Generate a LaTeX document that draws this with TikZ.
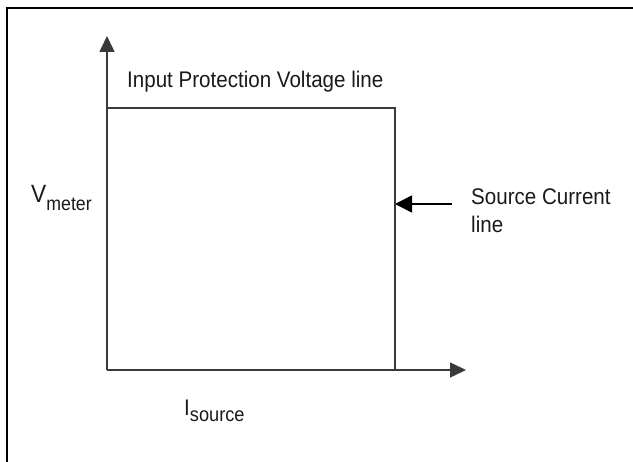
\documentclass[tikz,border=0pt]{standalone}
\usepackage{fontspec}
\setmainfont{Liberation Sans}[FakeStretch=0.91]
\usetikzlibrary{arrows.meta, positioning, calc}
\definecolor{kaxis}{HTML}{3A3A3A}
\definecolor{ktext}{HTML}{1A1A1A}

\begin{document}
\begin{tikzpicture}[x=1pt, y=-1pt,
  axisline/.style={draw=kaxis, line width=1.5pt, -{Triangle[length=16pt, width=15pt]}},
  boxline/.style={draw=kaxis, line width=1.5pt},
  lbl/.style={anchor=base west, inner sep=0pt, text=ktext, font=\fontsize{22.6}{28}\selectfont}]
\useasboundingbox (0,0) rectangle (633,462);
\draw[black, line width=2pt] (633,8) -- (7,8) -- (7,462);
% axes
\coordinate (O) at (107,370);
\coordinate (ytip) at (107,36);
\coordinate (xtip) at (466,370);
\coordinate (ipv) at (395,108);
\draw[axisline] (O) -- (ytip);
\draw[axisline] (O) -- (xtip);
% protection limits
\draw[boxline] (O |- ipv) -- (ipv) -- (ipv |- O);
\node[lbl] (ipvlabel) at (127,88) {Input Protection Voltage line};
\node[lbl, align=left] (sclabel) at (471,233) {Source Current\\line};
\coordinate (sctail) at (452,204);
\draw[axisline, draw=black, line width=1.8pt, -{Triangle[length=17pt, width=17pt]}] (sctail) -- (sctail -| ipv);
% axis labels
\node[lbl, font=\fontsize{25}{25}\selectfont] (vlabel) at (31,203)
  {V\raisebox{-8pt}{\fontsize{19.5}{20}\selectfont meter}};
\node[lbl] (ilabel) at (184,416)
  {I\raisebox{-6pt}{\fontsize{20}{20}\selectfont source}};
\end{tikzpicture}
\end{document}
